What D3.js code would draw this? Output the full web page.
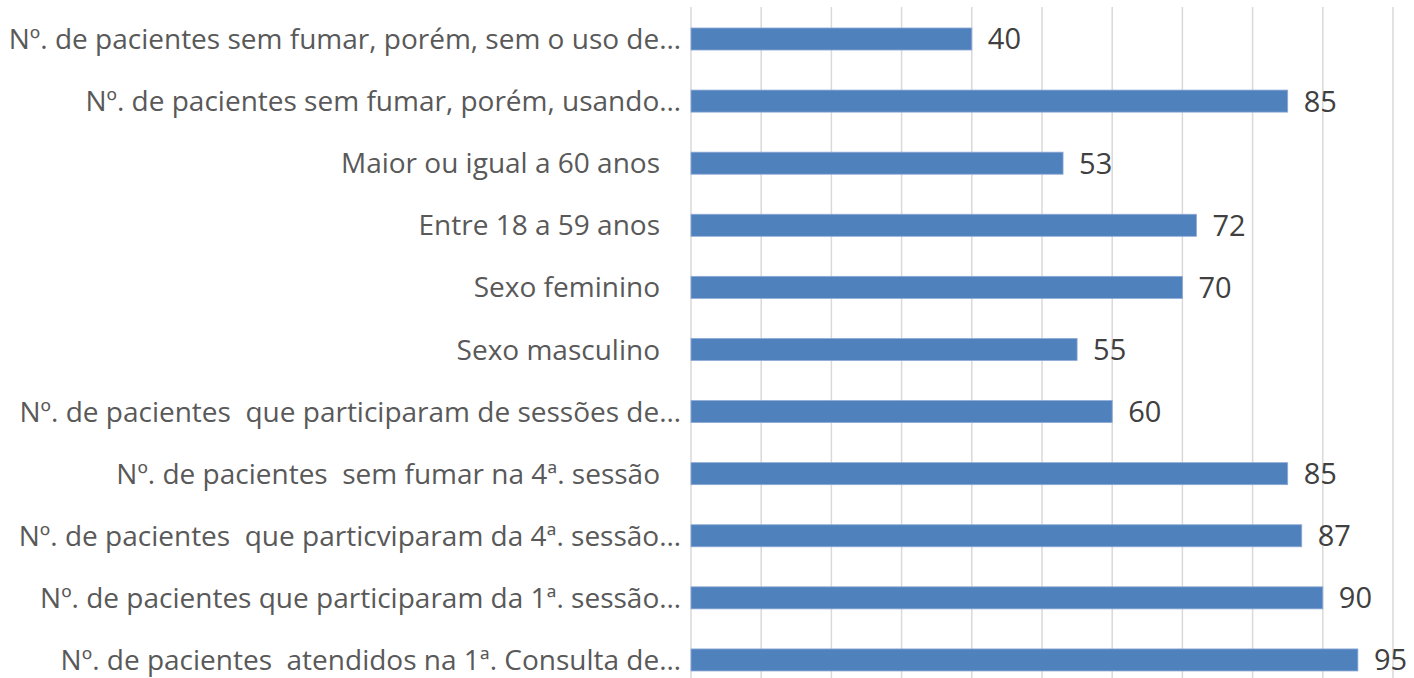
<!DOCTYPE html>
<html>
<head>
<meta charset="utf-8">
<script src="https://cdn.jsdelivr.net/npm/d3@7/dist/d3.min.js"></script>
<style>
html,body{margin:0;padding:0;background:#fff;}
svg{display:block;}
</style>
</head>
<body>
<svg id="chart" width="1414" height="678"></svg>
<script>
const categories = [
  "Nº. de pacientes sem fumar, porém, sem o uso de…",
  "Nº. de pacientes sem fumar, porém, usando…",
  "Maior ou igual a 60 anos",
  "Entre 18 a 59 anos",
  "Sexo feminino",
  "Sexo masculino",
  "Nº. de pacientes  que participaram de sessões de…",
  "Nº. de pacientes  sem fumar na 4ª. sessão",
  "Nº. de pacientes  que particviparam da 4ª. sessão…",
  "Nº. de pacientes que participaram da 1ª. sessão…",
  "Nº. de pacientes  atendidos na 1ª. Consulta de…"
];
const values = [40, 85, 53, 72, 70, 55, 60, 85, 87, 90, 95];
const xTicks = [0, 10, 20, 30, 40, 50, 60, 70, 80, 90, 100];

const svg = d3.select("#chart");
const x = d3.scaleLinear().domain([0, 100]).range([691, 1393]);
const y = d3.scaleBand().domain(categories).range([7.95, 691])
  .paddingInner(0.645).paddingOuter(0.3225);

// gridlines
svg.append("g").selectAll("line").data(xTicks).join("line")
  .attr("x1", d => x(d)).attr("x2", d => x(d))
  .attr("y1", 7).attr("y2", 678)
  .attr("stroke", "#d9d9d9").attr("stroke-width", 1.5);

// bars
svg.append("g").selectAll("rect").data(values).join("rect")
  .attr("x", x(0))
  .attr("y", (d, i) => y(categories[i]))
  .attr("width", d => x(d) - x(0))
  .attr("height", y.bandwidth())
  .attr("fill", "#4f81bd")
  .attr("stroke", "#8eaad6").attr("stroke-width", 0.8);

// value labels
svg.append("g").selectAll("text").data(values).join("text")
  .attr("x", d => x(d) + 16)
  .attr("y", (d, i) => y(categories[i]) + y.bandwidth() / 2)
  .attr("dy", "0.36em")
  .attr("font-family", "'Open Sans', sans-serif")
  .attr("font-size", 29)
  .attr("fill", "#404040")
  .text(d => d);

// category labels
svg.append("g").selectAll("text").data(categories).join("text")
  .attr("x", d => d.endsWith("…") ? 681 : 660)
  .attr("y", d => y(d) + y.bandwidth() / 2)
  .attr("dy", "0.36em")
  .attr("text-anchor", "end")
  .attr("font-family", "'Open Sans', sans-serif")
  .attr("font-size", 28)
  .attr("fill", "#595959")
  .style("white-space", "pre")
  .text(d => d);
</script>
</body>
</html>
